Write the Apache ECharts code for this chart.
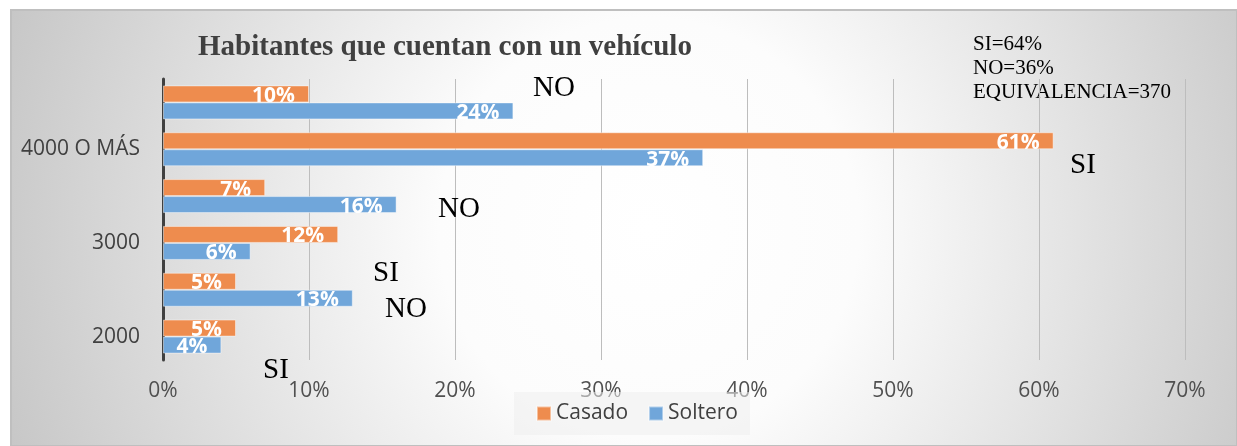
<!DOCTYPE html>
<html>
<head>
<meta charset="utf-8">
<script src="https://cdn.jsdelivr.net/npm/echarts@6/dist/echarts.min.js"></script>
<style>
  html, body { margin: 0; padding: 0; background: #fff; }
  #chart { width: 1237px; height: 446px; }
</style>
</head>
<body>
<div id="chart"></div>
<script>
// categories, bottom to top (only every other label is shown, as in the original)
var categories = ['2000', '2000 NO', '3000', '3000 NO', '4000 O MÁS', '4000 O MÁS NO'];
var casado = [5, 5, 12, 7, 61, 10];
var soltero = [4, 13, 6, 16, 37, 24];
var xTicks = [0, 10, 20, 30, 40, 50, 60, 70];

var titleText = 'Habitantes que cuentan con un vehículo';
var noteText = 'SI=64%\nNO=36%\nEQUIVALENCIA=370';
// loose SI / NO notes floating on the chart
var notes = [
	{ text: 'NO', x: 533, y: 88 },
	{ text: 'SI', x: 1070, y: 165 },
	{ text: 'NO', x: 438, y: 209 },
	{ text: 'SI', x: 373, y: 273 },
	{ text: 'NO', x: 385, y: 309 },
	{ text: 'SI', x: 263, y: 370 }
];

var chart = echarts.init(document.getElementById('chart'));

var sansFont = '"Open Sans", sans-serif';
var serifFont = '"Liberation Serif", "Times New Roman", serif';

var graphics = [{
	type: 'rect',
	z: -10,
	silent: true,
	shape: { x: 11, y: 10, width: 1226, height: 436 },
	style: {
		fill: new echarts.graphic.RadialGradient(0.52, 0.5, 1.6, [
			{ offset: 0, color: '#ffffff' },
			{ offset: 0.3, color: '#fcfcfc' },
			{ offset: 0.7, color: '#dcdcdc' },
			{ offset: 1, color: '#c4c4c4' }
		]),
		stroke: '#bfbfbf',
		lineWidth: 2
	}
}, {
	type: 'text',
	silent: true,
	x: 973,
	y: 32,
	style: {
		text: noteText,
		font: '21px ' + serifFont,
		lineHeight: 24,
		fill: '#000',
		textVerticalAlign: 'top'
	}
}];

notes.forEach(function (n) {
	graphics.push({
		type: 'text',
		silent: true,
		x: n.x,
		y: n.y,
		z: 20,
		style: {
			text: n.text,
			font: '29px ' + serifFont,
			fill: '#000',
			textVerticalAlign: 'middle'
		}
	});
});

var barLabel = {
	show: true,
	position: 'insideRight',
	distance: 14,
	offset: [0, 2],
	color: '#fff',
	fontFamily: sansFont,
	fontWeight: 'bold',
	fontSize: 21,
	formatter: '{c}%'
};

var option = {
	animation: false,
	title: {
		text: titleText,
		left: 198,
		top: 33,
		padding: 0,
		textStyle: {
			fontFamily: serifFont,
			fontWeight: 'bold',
			fontSize: 29,
			color: '#404040'
		}
	},
	legend: {
		data: ['Casado', 'Soltero'],
		left: 514,
		top: 392,
		padding: [11, 12, 11, 22],
		backgroundColor: 'rgba(238,238,238,0.55)',
		icon: 'rect',
		itemWidth: 14,
		itemHeight: 14,
		itemGap: 20,
		textStyle: {
			fontFamily: sansFont,
			fontSize: 21,
			color: '#404040'
		}
	},
	grid: {
		left: 163,
		right: 52,
		top: 79,
		bottom: 86,
		containLabel: false
	},
	xAxis: {
		type: 'value',
		min: xTicks[0],
		max: xTicks[xTicks.length - 1],
		interval: 10,
		axisLine: { show: false },
		axisTick: { show: false },
		splitLine: { lineStyle: { color: '#bdbdbd', width: 1 } },
		axisLabel: {
			margin: 21,
			formatter: '{value}%',
			fontFamily: sansFont,
			fontSize: 21,
			color: '#505050'
		}
	},
	yAxis: {
		type: 'category',
		data: categories,
		axisLine: { show: true, lineStyle: { color: '#404040', width: 3 } },
		axisTick: { show: false },
		axisLabel: {
			interval: 1,
			margin: 23,
			fontFamily: sansFont,
			fontSize: 21,
			color: '#404040',
			formatter: function (v) { return v.replace(/ NO$/, ''); }
		}
	},
	series: [{
		name: 'Casado',
		type: 'bar',
		data: casado,
		barWidth: 17,
		barGap: '0%',
		itemStyle: { color: '#ee8c4e', borderColor: 'rgba(255,255,255,0.45)', borderWidth: 1 },
		label: barLabel
	}, {
		name: 'Soltero',
		type: 'bar',
		data: soltero,
		barWidth: 17,
		barGap: '0%',
		itemStyle: { color: '#70a6da', borderColor: 'rgba(255,255,255,0.45)', borderWidth: 1 },
		label: barLabel
	}],
	graphic: graphics
};

chart.setOption(option);
</script>
</body>
</html>
